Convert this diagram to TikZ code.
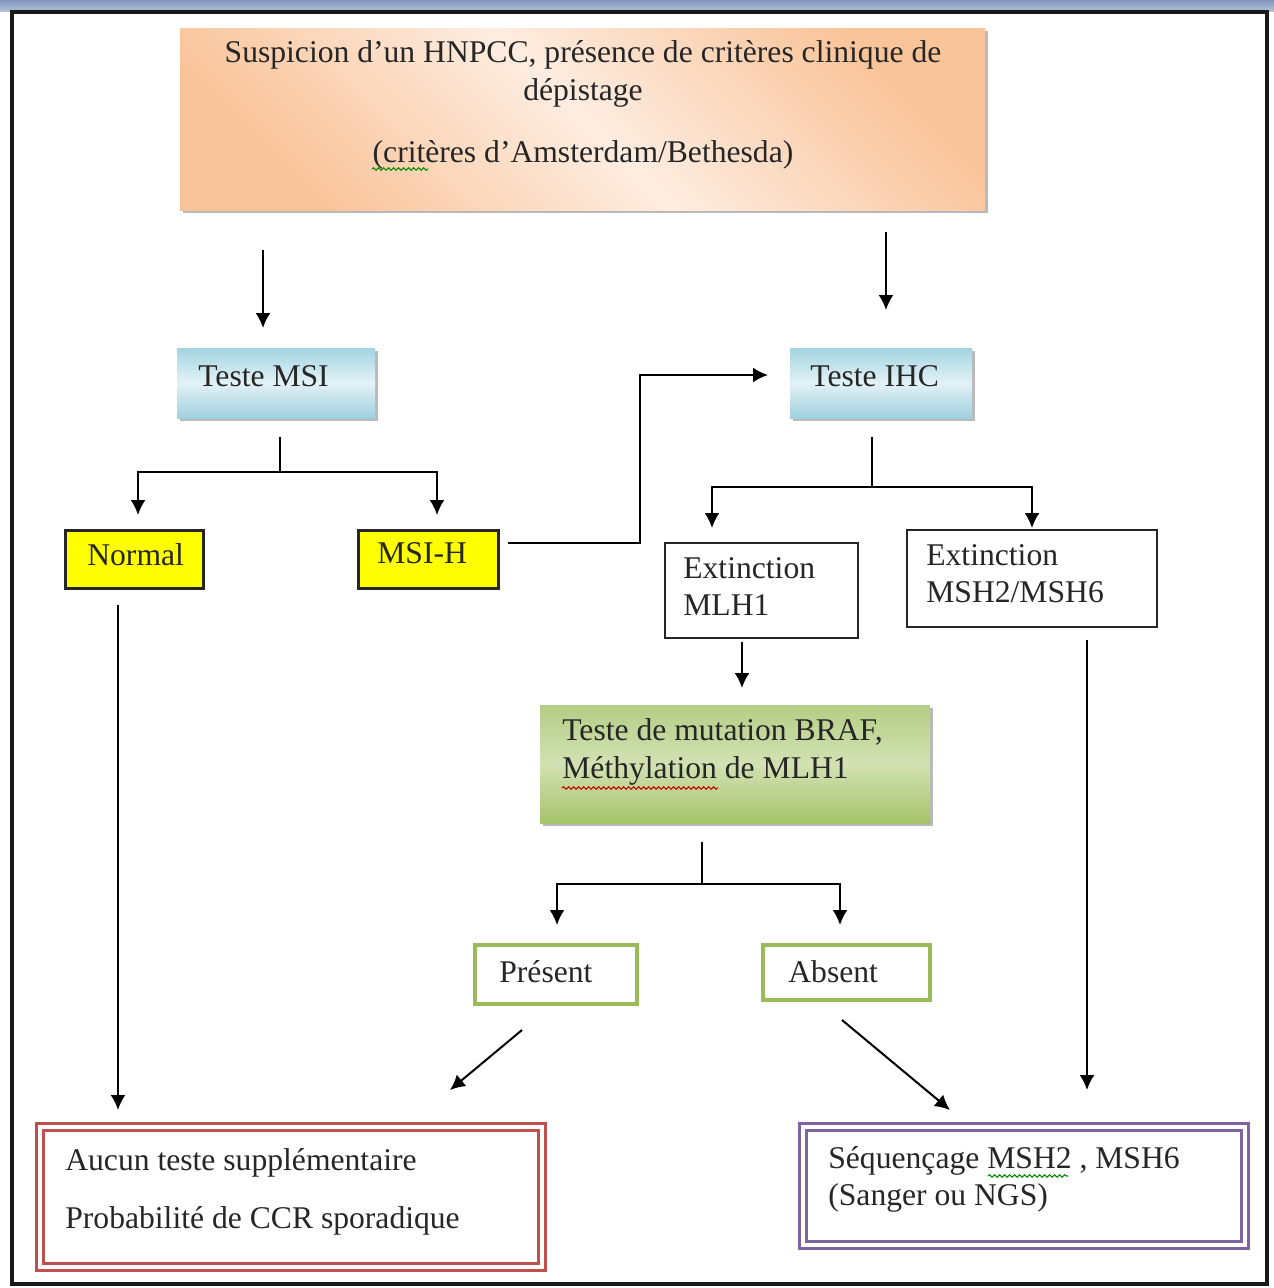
\documentclass[tikz,border=0pt]{standalone}
\usepackage{fontspec}
\setmainfont{Liberation Serif}
\usetikzlibrary{arrows.meta,calc,shadows,decorations.pathmorphing}

\newdimen\pxl \pxl=0.02cm

\definecolor{inkc}{HTML}{262626}
\definecolor{peach}{HTML}{F9C49A}
\definecolor{peachL}{HTML}{FDEDE1}
\definecolor{blueT}{HTML}{A3D4E2}
\definecolor{blueM}{HTML}{E3F2F6}
\definecolor{blueB}{HTML}{9FD0DF}
\definecolor{greenT}{HTML}{B5CD85}
\definecolor{greenM}{HTML}{D2E2B3}
\definecolor{greenB}{HTML}{A6C36A}
\definecolor{olive}{HTML}{9BBB59}
\definecolor{redc}{HTML}{C0504D}
\definecolor{purp}{HTML}{8064A2}
\definecolor{bandT}{HTML}{8196BB}
\definecolor{yell}{HTML}{FFFF00}

\tikzset{
  sz/.style 2 args={minimum width=#1\pxl, minimum height=#2\pxl, inner sep=0pt, outer sep=0pt},
  txt/.style={inner sep=0pt, text=inkc, font=\fontsize{18}{21}\selectfont},
  shadowed/.style={drop shadow={shadow xshift=1.8pt, shadow yshift=-1.8pt, fill=black!50, opacity=.55}},
  topbox/.style={shadowed, left color=peach, right color=peach, middle color=peachL, shading angle=135},
  bluebox/.style={shadowed, top color=blueT, bottom color=blueB, middle color=blueM},
  greenbox/.style={shadowed, top color=greenT, bottom color=greenB, middle color=greenM},
  yellowbox/.style={draw=black!85, fill=yell, line width=3\pxl},
  plainbox/.style={draw=black!85, fill=white, line width=2.5\pxl},
  olivebox/.style={draw=olive, fill=white, line width=3.5\pxl},
  redbox/.style={draw=redc, line width=3\pxl, double=white, double distance=4\pxl},
  purpbox/.style={draw=purp, line width=3\pxl, double=white, double distance=4\pxl},
  link/.style={draw=black, line width=2\pxl},
  arr/.style={link, -{Latex[length=8.5pt,width=8.5pt]}},
  squig/.style={line width=0.6pt, decorate, decoration={snake, amplitude=1.3\pxl, segment length=5\pxl}},
}

\begin{document}
\begin{tikzpicture}[x=1\pxl, y=-1\pxl]
\useasboundingbox (0,0) rectangle (1274,1288);
\fill[white] (0,0) rectangle (1274,1288);

% window band and frame
\shade[top color=bandT, bottom color=bandT!60] (0,0) rectangle (1274,11);
\draw[line width=4\pxl, black!90] (12,12) rectangle (1267,1284);

% boxes
\node[topbox, sz={805}{182}] (top) at (582.5,119) {};
\node[bluebox, sz={198}{70}] (msi) at (276,383) {};
\node[bluebox, sz={182}{70}] (ihc) at (881,383) {};
\node[yellowbox, sz={138}{58}] (normal) at (134,559) {};
\node[yellowbox, sz={140}{58}] (msih) at (428,559) {};
\node[plainbox, sz={193}{95}] (mlh) at (761.5,590.5) {};
\node[plainbox, sz={250}{97}] (msh) at (1032,578.5) {};
\node[greenbox, sz={390}{118}] (braf) at (735,764) {};
\node[olivebox, sz={162}{59}] (pres) at (556,974.5) {};
\node[olivebox, sz={167}{55}] (abs) at (846.5,972.5) {};
\node[redbox, sz={502}{140}] (aucun) at (291,1197) {};
\node[purpbox, sz={442}{118}] (seq) at (1024,1186) {};

% texts
\node[txt, anchor=mid] (top1) at (583,58) {Suspicion d’un HNPCC, présence de critères clinique de};
\node[txt, anchor=mid] (top2) at (583,96) {dépistage};
\node[txt, anchor=mid] (top3) at (583,158) {(critères d’Amsterdam/Bethesda)};
\node[txt, anchor=mid west] (msiT) at (198,382) {Teste MSI};
\node[txt, anchor=mid west] (ihcT) at (810,382) {Teste IHC};
\node[txt, anchor=mid west] (normalT) at (87,561) {Normal};
\node[txt, anchor=mid west] (msihT) at (377,559) {MSI-H};
\node[txt, anchor=mid west] (mlhT1) at (683,574) {Extinction};
\node[txt, anchor=mid west] (mlhT2) at (683,611) {MLH1};
\node[txt, anchor=mid west] (mshT1) at (926,561) {Extinction};
\node[txt, anchor=mid west] (mshT2) at (926,598) {MSH2/MSH6};
\node[txt, anchor=mid west] (brafT1) at (562,736) {Teste de mutation BRAF,};
\node[txt, anchor=mid west] (brafT2) at (562,774) {Méthylation de MLH1};
\node[txt, anchor=mid west] (presT) at (499,978) {Présent};
\node[txt, anchor=mid west] (absT) at (788,978) {Absent};
\node[txt, anchor=mid west] (aucunT1) at (65,1166) {Aucun teste supplémentaire};
\node[txt, anchor=mid west] (aucunT2) at (65,1224) {Probabilité de CCR sporadique};
\node[txt, anchor=mid west] (seqT1) at (828,1164) {Séquençage MSH2 , MSH6};
\node[txt, anchor=mid west] (seqT2) at (828,1201) {(Sanger ou NGS)};

% proofing marks under words
\draw[squig, draw=green!55!black] (372,169) -- (428,169);
\draw[squig, draw=red!80!black] (562,788) -- (718,788);
\draw[squig, draw=green!55!black] (988,1176) -- (1068,1176);

% arrows from the first box
\coordinate (a1s) at (263,250);
\coordinate (a1e) at (263,328);
\coordinate (a2s) at (886,232);
\coordinate (a2e) at (886,310);
\draw[arr] (a1s) -- (a1e);
\draw[arr] (a2s) -- (a2e);

% MSI split
\draw[link] ($(msi.south)+(4,19)$) -- ++(0,35) coordinate (msiJ);
\draw[arr] (msiJ) -| ($(normal.north)+(4,-15)$);
\draw[arr] (msiJ) -| ($(msih.north)+(9,-15)$);

% MSI-H to IHC
\draw[arr] ($(msih.east)+(10,-16)$) -- ++(132,0) |- ($(ihc.west)+(-22,-8)$);

% IHC split
\draw[link] ($(ihc.south)+(-9,19)$) -- ++(0,50) coordinate (ihcJ);
\draw[arr] (ihcJ) -| ($(mlh.north)+(-49.5,-15)$);
\draw[arr] (ihcJ) -| ($(msh.north)+(0,-2)$);

% MLH1 to BRAF
\draw[arr] ($(mlh.south)+(-19.5,4)$) -- ($(braf.north)+(7,-17)$);

% BRAF split
\draw[link] ($(braf.south)+(-33,19)$) -- ++(0,42) coordinate (brafJ);
\draw[arr] (brafJ) -| ($(pres.north)+(1,-20)$);
\draw[arr] (brafJ) -| ($(abs.north)+(-6.5,-20)$);

% towards the final boxes
\draw[arr] ($(normal.south)+(-16,17)$) -- ($(aucun.north)+(-173,-17)$);
\draw[arr] ($(pres.south)+(-34,26)$) -- ($(aucun.north)+(159,-37)$);
\draw[arr] ($(abs.south)+(-4.5,20)$) -- ($(seq.north)+(-74,-17)$);
\draw[arr] ($(msh.south)+(55,13)$) -- ($(seq.north)+(63,-37)$);
\end{tikzpicture}
\end{document}
